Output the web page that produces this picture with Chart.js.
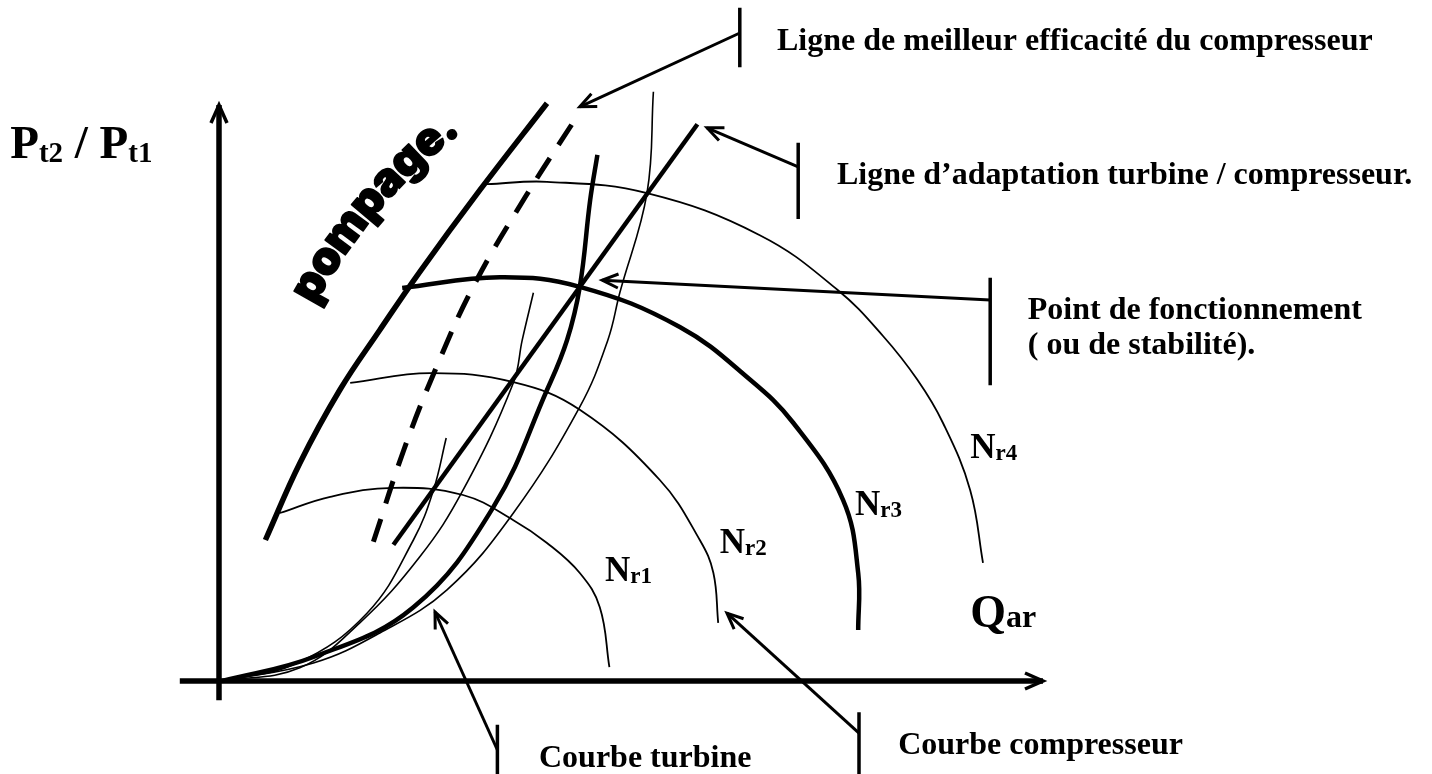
<!DOCTYPE html>
<html>
<head>
<meta charset="utf-8">
<script src="https://cdn.jsdelivr.net/npm/chart.js@4.4.1/dist/chart.umd.min.js"></script>
<style>
  html, body { margin: 0; padding: 0; background: #fff; overflow: hidden; }
  canvas { display: block; }
</style>
</head>
<body>
<canvas id="map" width="1432" height="774"></canvas>
<script>
// Compressor / turbine matching map.
// Horizontal: reduced air flow Q_ar, vertical: pressure ratio Pt2/Pt1 (arbitrary units).

// Surge line and best-efficiency line of the compressor
const surgeLine      = [[5.8,23.5],[10.1,36.3],[15.1,48.5],[20.1,58.5],[25.1,68.2],[32.6,81.8],[41,96.3]];
const bestEfficiency = [[19.3,23.2],[23.1,38.5],[27.3,52.7],[32,66.3],[38.3,80.7],[44.6,93.8]];
// Turbine / compressor matching line
const matchingLine   = [[21.8,22.7],[59.8,92.8]];

// Turbine characteristics (the third one is the operating turbine curve)
const turbine1 = [[0.4,0],[9.8,3],[18.5,11.3],[24.3,23.5],[26.8,31.8],[28.4,40.5]];
const turbine2 = [[0.4,0],[10.1,2.2],[17.6,9.7],[25.1,20.7],[30.5,31.8],[36.8,49.7],[37.9,56.8],[39.3,64.7]];
const turbine3 = [[0.4,0],[11.8,4],[24.3,12.3],[34.3,29],[41,48.5],[43.5,56.8],[45.1,65.7],[46.4,80.2],[47.3,87.7]];
const turbine4 = [[0.4,0],[11.8,3],[20.1,8],[28.5,15.2],[36.8,28],[45.1,45.7],[48.6,56.8],[50.1,64.7],[53.5,81.3],[54.3,98.2]];

// Compressor speed lines Nr1..Nr4
const speedNr1 = [[7.6,28],[13.9,30.7],[21.8,32.2],[30.5,31],[36.8,26.8],[41,23],[45.1,18],[47.6,12.3],[48.8,2.3]];
const speedNr2 = [[16.4,49.7],[26.4,51.3],[36.8,49.8],[45.1,45.2],[55.1,33.5],[60.1,23.5],[61.8,18],[62.4,9.7]];
const speedNr3 = [[22.9,65.5],[35.1,67.3],[45.1,65.7],[57.6,59],[66.4,50.2],[71.8,43],[78,30.2],[79.9,18],[79.9,8.5]];
const speedNr4 = [[33.5,82.8],[41,83.2],[53.5,81.3],[67.6,74.3],[77.3,65.2],[83,57.5],[87.3,50.2],[90.5,43],[93.9,31.8],[95.5,19.7]];
const speedNames = ['1','2','3','4'];

// Axes
const flowAxis  = [[-4.9,0],[103,0]];
const ratioAxis = [[0,-3.2],[0,96]];

// Callouts: leader (tip last) and end bar
const calloutBest     = { leader: [[65.1,108],[45.1,95.7]],  bar: [[65.1,112.2],[65.1,102.3]] };
const calloutMatching = { leader: [[72.4,85.7],[61,92.2]],   bar: [[72.4,89.7],[72.4,77]] };
const calloutPoint    = { leader: [[96.4,63.5],[47.9,66.8]], bar: [[96.4,67.2],[96.4,49.3]] };
const calloutTurbine  = { leader: [[34.8,-11.5],[27,11.5]],  bar: [[34.8,-7.3],[34.8,-15.6]] };
const calloutComp     = { leader: [[80,-8.7],[63.5,11.3]],   bar: [[80,-5.2],[80,-15.6]] };

const noteTexts = [
  'Ligne de meilleur efficacité du compresseur',
  'Ligne d’adaptation turbine / compresseur.',
  'Point de fonctionnement',
  '( ou de stabilité).',
  'Courbe turbine',
  'Courbe compresseur'
];
const notePlaces = [[69.75,105.2],[77.25,82.8],[101.1,60.3],[101.1,54.5],[40,-14.3],[84.9,-12.2]];
const speedPlaces = [[48.25,16.7],[62.6,21.3],[79.5,27.7],[93.9,37.2]];
const surgeText = 'pompage.';
const surgeTextStart = [10.5,63.7];

const SERIF = '"Liberation Serif","Times New Roman",serif';

function curve(points, width, extra) {
  return Object.assign({
    data: points.map(([x, y]) => ({ x, y })),
    showLine: true,
    borderColor: '#000',
    backgroundColor: '#000',
    borderWidth: width,
    pointRadius: 0,
    pointHoverRadius: 0,
    tension: 0.4,
    fill: false
  }, extra || {});
}

const datasets = [
  curve(flowAxis, 5.5, { tension: 0, arrow: { len: 18, half: 8, width: 3.5 } }),
  curve(ratioAxis, 5.5, { tension: 0, arrow: { len: 18, half: 8, width: 3.5 } }),
  curve(speedNr1, 1.8), curve(speedNr2, 1.8), curve(speedNr3, 4.5), curve(speedNr4, 1.8),
  curve(turbine1, 1.6), curve(turbine2, 1.6), curve(turbine3, 4.5), curve(turbine4, 1.6),
  curve(surgeLine, 5.5),
  curve(bestEfficiency, 5, { borderDash: [24, 16] }),
  curve(matchingLine, 4.5, { tension: 0 })
];
[calloutBest, calloutMatching, calloutPoint, calloutTurbine, calloutComp].forEach(c => {
  datasets.push(curve(c.leader, 3, { tension: 0, arrow: { len: 16, half: 7, width: 3 } }));
  datasets.push(curve(c.bar, 3.5, { tension: 0 }));
});

function drawRuns(ctx, x, y, parts) {
  let cx = x;
  for (const p of parts) {
    ctx.font = 'bold ' + p.size + 'px ' + SERIF;
    ctx.fillText(p.t, cx, y + (p.dy || 0));
    cx += ctx.measureText(p.t).width;
  }
}

// Lay a string out character by character along a circular arc
function arcText(ctx, str, x0, y0, phi0, R) {
  const cx = x0 - R * Math.sin(phi0), cy = y0 + R * Math.cos(phi0);
  let s = 0;
  for (const ch of str) {
    const w = ctx.measureText(ch).width;
    const phi = phi0 + (s + w / 2) / R;
    ctx.save();
    ctx.translate(cx + R * Math.sin(phi), cy - R * Math.cos(phi));
    ctx.rotate(phi);
    ctx.strokeText(ch, 0, 0);
    ctx.fillText(ch, 0, 0);
    ctx.restore();
    s += w;
  }
}

const decor = {
  id: 'decor',
  beforeDraw(chart) {
    const c = chart.ctx;
    c.save(); c.fillStyle = '#fff'; c.fillRect(0, 0, chart.width, chart.height); c.restore();
  },
  afterDatasetsDraw(chart) {
    const c = chart.ctx;
    c.save();
    c.strokeStyle = '#000';
    c.lineCap = 'butt';
    c.lineJoin = 'miter';
    chart.data.datasets.forEach((ds, i) => {
      if (!ds.arrow) return;
      const pts = chart.getDatasetMeta(i).data;
      const a = pts[pts.length - 2], b = pts[pts.length - 1];
      const ang = Math.atan2(b.y - a.y, b.x - a.x);
      const { len, half, width } = ds.arrow;
      const bx = b.x - len * Math.cos(ang), by = b.y - len * Math.sin(ang);
      const nx = -Math.sin(ang) * half, ny = Math.cos(ang) * half;
      c.lineWidth = width;
      c.beginPath();
      c.moveTo(bx + nx, by + ny);
      c.lineTo(b.x, b.y);
      c.lineTo(bx - nx, by - ny);
      c.stroke();
    });
    c.restore();
  },
  afterDraw(chart) {
    const c = chart.ctx, xs = chart.scales.x, ys = chart.scales.y;
    const px = v => xs.getPixelForValue(v), py = v => ys.getPixelForValue(v);
    c.save();
    c.fillStyle = '#000';
    c.strokeStyle = '#000';
    c.textAlign = 'left';
    c.textBaseline = 'alphabetic';
    noteTexts.forEach((t, i) => {
      drawRuns(c, px(notePlaces[i][0]), py(notePlaces[i][1]), [{ t, size: 32 }]);
    });
    speedNames.forEach((n, i) => {
      drawRuns(c, px(speedPlaces[i][0]), py(speedPlaces[i][1]),
        [{ t: 'N', size: 35 }, { t: 'r' + n, size: 23, dy: 2 }]);
    });
    // axis titles
    drawRuns(c, px(-26.1), py(87.2), [
      { t: 'P', size: 47 }, { t: 't2', size: 29, dy: 4 },
      { t: ' / P', size: 47 }, { t: 't1', size: 29, dy: 4 }
    ]);
    drawRuns(c, px(93.9), py(9), [{ t: 'Q', size: 46 }, { t: 'ar', size: 32, dy: 0 }]);
    // surge line caption, set along a slight arc
    c.font = '900 46px Inter, Lato, "DejaVu Sans", sans-serif';
    c.lineWidth = 1.6;
    c.lineJoin = 'round';
    c.textAlign = 'center';
    c.textBaseline = 'middle';
    arcText(c, surgeText, px(surgeTextStart[0]), py(surgeTextStart[1]), -62 * Math.PI / 180, 550);
    c.restore();
  }
};

new Chart(document.getElementById('map'), {
  type: 'scatter',
  data: { datasets },
  options: {
    responsive: false,
    animation: false,
    devicePixelRatio: 1,
    layout: { padding: 0 },
    events: [],
    scales: {
      x: { type: 'linear', min: -27.375, max: 151.625, display: false },
      y: { type: 'linear', min: -15.5, max: 113.5, display: false }
    },
    plugins: { legend: { display: false }, tooltip: { enabled: false }, title: { display: false } }
  },
  plugins: [decor]
});
</script>
</body>
</html>
